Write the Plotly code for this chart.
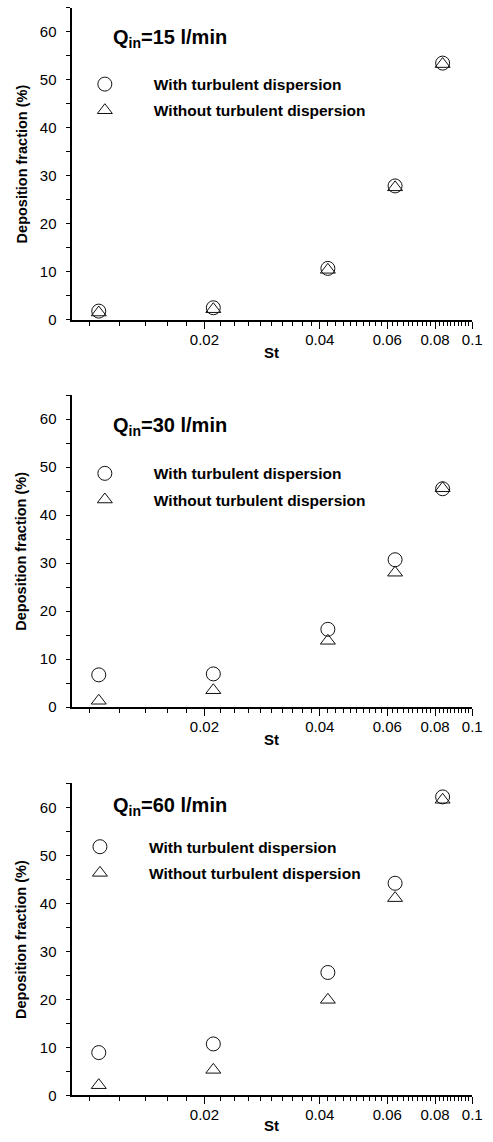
import plotly.graph_objects as go

# ---- data ----
st = [0.0106, 0.0211, 0.0420, 0.0629, 0.0837]
q15_with = [1.8, 2.5, 10.7, 27.9, 53.5]
q15_without = [1.5, 2.2, 10.4, 27.6, 53.3]
q30_with = [6.7, 6.9, 16.2, 30.7, 45.5]
q30_without = [1.3, 3.5, 13.8, 28.0, 45.6]
q60_with = [8.9, 10.7, 25.6, 44.2, 62.2]
q60_without = [2.1, 5.3, 19.9, 41.1, 61.6]
panel_titles = ["Q<sub>in</sub>=15 l/min", "Q<sub>in</sub>=30 l/min", "Q<sub>in</sub>=60 l/min"]
series_names = ["With turbulent dispersion", "Without turbulent dispersion"]
x_tickvals = [0.02, 0.04, 0.06, 0.08, 0.1]
x_ticktext = ["0.02", "0.04", "0.06", "0.08", "0.1"]
x_minor = [round(0.01 + 0.002 * i, 4) for i in range(46)]
y_tickvals = [0, 10, 20, 30, 40, 50, 60]

W, H = 493, 1142
FONT = "Liberation Sans, Arial, Helvetica, sans-serif"

# panel geometry in pixels (top of y-axis, y=0 line)
panels = [
    dict(top=8, bottom=322, title_y=39, leg_x=104, leg_y=84),
    dict(top=398, bottom=712, title_y=430, leg_x=104, leg_y=476),
    dict(top=789, bottom=1103, title_y=812, leg_x=99, leg_y=852),
]
x_left, x_right = 73, 482
ITEMW = 88

data_sets = [(q15_with, q15_without), (q30_with, q30_without), (q60_with, q60_without)]

fig = go.Figure()
for i, (p, (yw, ywo)) in enumerate(zip(panels, data_sets)):
    n = "" if i == 0 else str(i + 1)
    leg = "legend" + n
    fig.add_trace(go.Scatter(
        x=st, y=yw, mode="markers", name=series_names[0],
        xaxis="x" + n, yaxis="y" + n, legend=leg, legendgroup=f"a{i}",
        marker=dict(symbol="circle-open", size=14, color="#111", line=dict(width=1, color="#111")),
    ))
    fig.add_trace(go.Scatter(
        x=st, y=ywo, mode="markers", name=series_names[1],
        xaxis="x" + n, yaxis="y" + n, legend=leg, legendgroup=f"b{i}",
        marker=dict(symbol="triangle-up-open", size=13, color="#111", line=dict(width=1, color="#111")),
    ))

layout = dict(
    width=W, height=H, autosize=False,
    margin=dict(l=0, r=0, t=0, b=0),
    paper_bgcolor="white", plot_bgcolor="white",
    font=dict(family=FONT, color="black", size=15),
    showlegend=True,
)
annotations = []
for i, p in enumerate(panels):
    n = "" if i == 0 else str(i + 1)
    ydom = [1 - p["bottom"] / H, 1 - p["top"] / H]
    layout["xaxis" + n] = dict(
        type="log", range=[-2.0458, -1], domain=[x_left / W, x_right / W],
        anchor="y" + n,
        showline=True, linewidth=2, linecolor="black", mirror=False,
        showgrid=False, zeroline=False,
        ticks="outside", ticklen=7, tickwidth=1, tickcolor="black",
        tickmode="array", tickvals=x_tickvals, ticktext=x_ticktext,
        tickfont=dict(size=15, family=FONT), ticklabelstandoff=-2,
        minor=dict(tickmode="array", tickvals=x_minor, ticks="outside", ticklen=4,
                   tickwidth=1, tickcolor="black", showgrid=False),
    )
    layout["yaxis" + n] = dict(
        range=[0, 65], domain=ydom, anchor="x" + n,
        showline=True, linewidth=2, linecolor="black",
        showgrid=False, zeroline=False,
        ticks="outside", ticklen=4, tickwidth=1, tickcolor="black",
        tickmode="array", tickvals=y_tickvals,
        tickfont=dict(size=15, family=FONT), ticklabelstandoff=6,
        minor=dict(dtick=5, tick0=5, ticks="outside", ticklen=4, tickwidth=1,
                   tickcolor="black", showgrid=False),
    )
    layout["legend" + n] = dict(
        x=(p["leg_x"] - ITEMW / 2 - 3) / W, xanchor="left",
        y=1 - (p["leg_y"] - 16) / H, yanchor="top",
        bgcolor="rgba(0,0,0,0)", borderwidth=0,
        font=dict(size=15.5, family=FONT, color="black", weight="bold"),
        itemwidth=ITEMW, tracegroupgap=3, traceorder="grouped",
    )
    annotations.append(dict(
        text="<b>" + panel_titles[i] + "</b>", xref="paper", yref="paper",
        x=113 / W, y=1 - p["title_y"] / H, xanchor="left", yanchor="middle",
        showarrow=False, font=dict(size=20, family=FONT, color="black"),
    ))
    annotations.append(dict(
        text="<b>Deposition fraction (%)</b>", xref="paper", yref="paper",
        x=22 / W, y=1 - (p["top"] + p["bottom"]) / 2 / H, xanchor="center", yanchor="middle",
        textangle=-90, showarrow=False, font=dict(size=14.5, family=FONT, color="black"),
    ))
    st_y = min(p["bottom"] + 33, H - 9)
    annotations.append(dict(
        text="<b>St</b>", xref="paper", yref="paper",
        x=(x_left + x_right) / 2 / W, y=1 - st_y / H, xanchor="center", yanchor="middle",
        showarrow=False, font=dict(size=15, family=FONT, color="black"),
    ))
layout["annotations"] = annotations
fig.update_layout(**layout)
fig.write_html(
    "out.html",
    config={"displayModeBar": False, "responsive": False},
    post_script=(
        "document.body.style.margin='0px';"
        "document.body.style.overflow='hidden';"
        "document.documentElement.style.overflow='hidden';"
    ),
)
